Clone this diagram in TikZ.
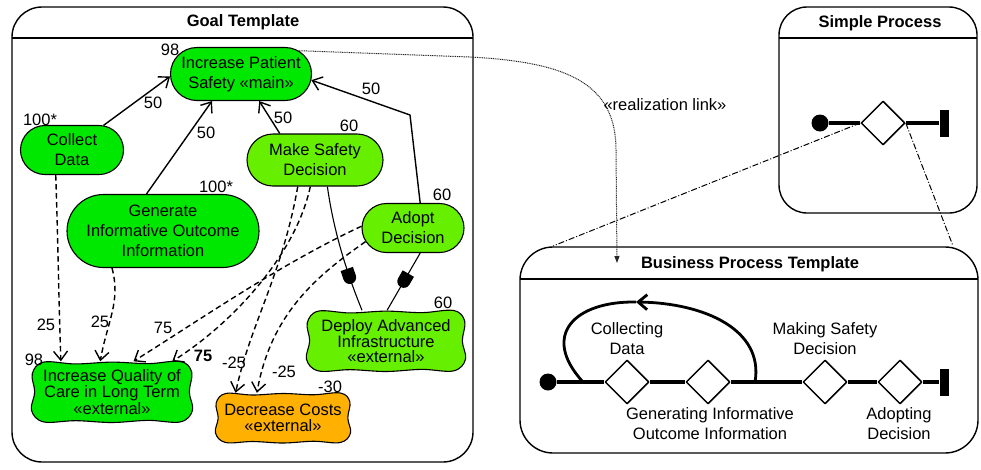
\documentclass[tikz,border=0pt]{standalone}
\usepackage{fontspec}
\setmainfont{Liberation Sans}
\usetikzlibrary{shapes.misc,shapes.geometric,arrows.meta,decorations.markings,calc}
\definecolor{gA}{RGB}{0,232,0}
\definecolor{gB}{RGB}{102,240,0}
\definecolor{orA}{RGB}{255,176,0}
\newcommand\nf{\fontsize{16.5}{20}\selectfont}
\newcommand\wavyblob[5]{\begin{scope}[shift={(#1,#2)},xscale=#3,yscale=#4]\filldraw[fill=#5,line width=1.1pt] plot[smooth cycle,tension=0.6] coordinates{(-0.85,0.98) (-0.45,0.92) (0,0.98) (0.45,0.93) (0.85,1) (0.99,0.65) (0.96,0) (1,-0.6) (0.85,-0.98) (0.45,-0.93) (0,-1) (-0.45,-0.94) (-0.85,-0.98) (-1,-0.6) (-0.96,0) (-0.99,0.6)};\end{scope}}
\tikzset{
  goal/.style={rounded rectangle, draw, line width=1.1pt, align=center, font=\nf, inner sep=0pt},
  wtext/.style={rectangle, align=center, inner sep=0pt},
  num/.style={font=\nf, inner sep=0pt},
  carr/.style={line width=1.4pt, -{Straight Barb[length=9pt,width=14pt]}},
  darr/.style={carr, dash pattern=on 5.5pt off 3.5pt},
  depline/.style={line width=1.1pt, postaction={decorate, decoration={markings, mark=at position #1 with {\fill (-8,-6.5) -- (1,-6.5) arc[start angle=-90,end angle=90,radius=6.5] -- (-8,6.5) -- cycle;}}}},
  frame/.style={draw, line width=1.4pt},
  title/.style={font=\nf\bfseries, inner sep=0pt},
  dia/.style={diamond, draw, fill=white, line width=1.5pt, minimum width=44pt, minimum height=44pt, inner sep=0pt},
  startdot/.style={circle, fill=black, minimum size=17pt, inner sep=0pt},
  endbar/.style={rectangle, fill=black, minimum width=9pt, minimum height=27pt, inner sep=0pt},
  pline/.style={line width=3.6pt},
  dashdot/.style={line width=1pt, dash pattern=on 6pt off 2pt on 1pt off 2pt},
  plabel/.style={font=\nf, align=center, inner sep=0pt}
}
\begin{document}
\begin{tikzpicture}[x=1pt,y=1pt,line join=round]
\useasboundingbox (0,0) rectangle (981,-469);
% ---------- Goal Template frame
\draw[frame, rounded corners=30pt] (12,-7) rectangle (473,-462);
\draw[line width=1.4pt] (12,-38) -- (473,-38);
\node[title] (gt) at (243,-22) {Goal Template};

% ---------- goal nodes
\node[goal, fill=gA, minimum width=141pt, minimum height=53pt] (IPS) at (241,-74) {Increase Patient\\Safety «main»};
\node[goal, fill=gA, minimum width=103pt, minimum height=49pt] (CD) at (72,-150) {Collect\\Data};
\node[goal, fill=gA, minimum width=192pt, minimum height=73pt] (GIO) at (163,-231) {Generate\\Informative Outcome\\Information};
\node[goal, fill=gB, minimum width=136pt, minimum height=52pt] (MSD) at (315,-160) {Make Safety\\Decision};
\node[goal, fill=gB, minimum width=102pt, minimum height=49pt] (AD) at (413,-228) {Adopt\\Decision};

\wavyblob{386}{-341}{79.5}{30.5}{gB}
\node[wtext, minimum width=159pt, minimum height=61pt, font=\fontsize{16.5}{15}\selectfont] (DEP) at (386,-341) {Deploy Advanced\\Infrastructure\\«external»};
\wavyblob{112}{-392}{80.5}{30.5}{gA}
\node[wtext, minimum width=161pt, minimum height=61pt, font=\fontsize{16.5}{16.5}\selectfont] (IQC) at (112,-392) {Increase Quality of\\Care in Long Term\\«external»};
\wavyblob{283}{-418}{67.5}{25}{orA}
\node[wtext, minimum width=135pt, minimum height=50pt, font=\fontsize{16.5}{16}\selectfont] (DC) at (283,-418) {Decrease Costs\\«external»};

% ---------- numbers
\node[num] (n98a) at (170,-50) {98};
\node[num] (n100a) at (40,-120) {100*};
\node[num] (n100b) at (216,-187) {100*};
\node[num] (n60a) at (349,-126) {60};
\node[num] (n60b) at (442,-195) {60};
\node[num] (n60c) at (443,-303) {60};
\node[num] (n98b) at (34,-360) {98};
\node[num] (n30) at (330,-387) {-30};

% ---------- contributions to main goal
\draw[carr] (CD.38) -- (IPS.182);
\draw[carr] (GIO.114) -- (IPS.223);
\draw[carr] (MSD.143) -- (IPS.304);
\coordinate (adbend) at (410,-115);
\draw[carr] (AD.74) -- (adbend) -- (IPS.355);
\node[num] (l1) at (153,-103) {50};
\node[num] (l2) at (206,-133) {50};
\node[num] (l3) at (283,-118) {50};
\node[num] (l4) at (371,-89) {50};

% ---------- dashed contributions
\draw[darr] (CD.237) .. controls +(-88:70) and +(92:70) .. (IQC.149);
\draw[darr] (GIO.216) .. controls +(-75:35) and +(80:40) .. (IQC.111);
\draw[darr] (AD.178) .. controls +(205:90) and +(32:80) .. (IQC.55);
\draw[darr] (MSD.260) .. controls +(-102:70) and +(32:70) .. (IQC.27);
\draw[darr] (MSD.237) .. controls +(-100:90) and +(78:70) .. (DC.152);
\draw[darr] (AD.196) .. controls +(215:60) and +(80:80) .. (DC.136);
\node[num] (l5) at (46,-325) {25};
\node[num] (l6) at (100,-322) {25};
\node[num] (l7) at (163,-328) {75};
\node[num, font=\nf\bfseries] (l8) at (203,-356) {75};
\node[num] (l9) at (234,-363) {-25};
\node[num] (l10) at (284,-372) {-25};

% ---------- dependencies
\draw[depline=0.72] (MSD.295) .. controls +(-82:50) and +(112:35) .. (DEP.128);
\draw[depline=0.48] (AD.286) -- (DEP.88);

% ---------- Simple Process
\draw[frame, rounded corners=28pt] (779,-7) rectangle (977,-213);
\draw[line width=1.4pt] (779,-38) -- (977,-38);
\node[title] (spt) at (880,-23) {Simple Process};
\node[startdot] (s0) at (820,-123) {};
\node[dia] (d0) at (883,-123) {};
\node[endbar] (e0) at (944,-123) {};
\draw[pline] (s0) -- (d0) (d0) -- (e0);

% ---------- Business Process Template
\draw[frame, rounded corners=33pt] (520,-247) rectangle (978,-453);
\draw[line width=1.4pt] (520,-279) -- (978,-279);
\node[title] (bpt) at (750,-264) {Business Process Template};
\node[startdot] (s1) at (548,-382) {};
\node[dia] (d1) at (627,-382) {};
\node[dia] (d2) at (708,-382) {};
\node[dia] (d3) at (825,-382) {};
\node[dia] (d4) at (900,-382) {};
\node[endbar] (e1) at (944,-382) {};
\draw[pline] (s1) -- (d1) (d1) -- (d2) (d2) -- (d3) (d3) -- (d4) (d4) -- (e1);
\coordinate (lpA) at (755,-382);
\coordinate (lpB) at (583,-382);
\coordinate (lpT) at (636,-302);
\draw[line width=2.8pt, -{Straight Barb[length=9pt,width=15pt]}] (lpA) .. controls (764,-330) and (705,-303) .. (lpT);
\draw[line width=2.8pt] (lpT) .. controls (575,-301) and (540,-335) .. (lpB);
\node[plabel] (t1) at (627,-339) {Collecting\\Data};
\node[plabel] (t2) at (825,-339) {Making Safety\\Decision};
\node[plabel] (t3) at (710,-424) {Generating Informative\\Outcome Information};
\node[plabel] (t4) at (899,-424) {Adopting\\Decision};

% ---------- links between diagrams
\coordinate (bptTL) at (553,-246);
\coordinate (bptTR) at (953,-246);
\draw[dashdot] (d0.west) -- (bptTL);
\draw[dashdot] (d0.east) -- (bptTR);
\coordinate (rlEnd) at (617,-263);
\draw[line width=1pt, black!85, dash pattern=on 1pt off 0.8pt, -{Triangle[length=7pt,width=5pt]}] (IPS.22) -- (470,-57) .. controls (565,-62) and (616,-82) .. (616,-150) -- (rlEnd);
\node[num] (rl) at (665,-105) {«realization link»};
\end{tikzpicture}
\end{document}
